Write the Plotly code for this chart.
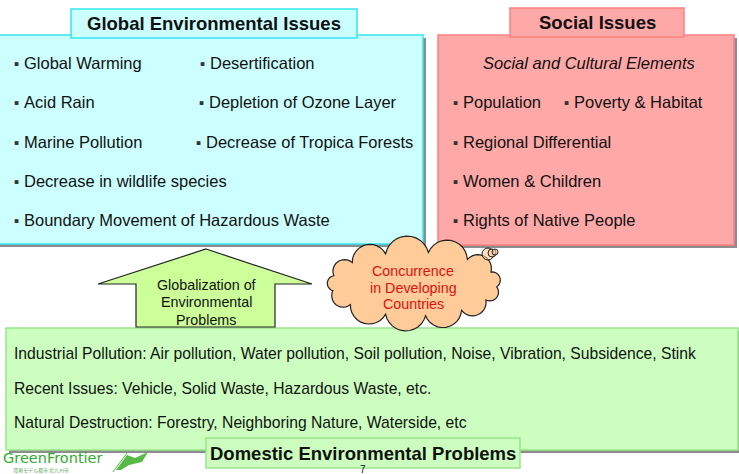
import math
import plotly.graph_objects as go

# ---- content ----
global_title = "Global Environmental Issues"
global_left = ["Global Warming", "Acid Rain", "Marine Pollution",
               "Decrease in wildlife species", "Boundary Movement of Hazardous Waste"]
global_right = ["Desertification", "Depletion of Ozone Layer", "Decrease of Tropica Forests"]
social_title = "Social Issues"
social_subtitle = "Social and Cultural Elements"
social_items = ["Population", "Regional Differential", "Women & Children", "Rights of Native People"]
social_extra = ["Poverty & Habitat"]
arrow_lines = ["Globalization of", "Environmental", "Problems"]
cloud_lines = ["Concurrence", "in Developing", "Countries"]
domestic_lines = [
    "Industrial Pollution: Air pollution, Water pollution, Soil pollution, Noise, Vibration, Subsidence, Stink",
    "Recent Issues: Vehicle, Solid Waste, Hazardous Waste, etc.",
    "Natural Destruction: Forestry, Neighboring Nature, Waterside, etc",
]
domestic_title = "Domestic Environmental Problems"
logo_text = "GreenFrontier"
logo_sub = "環境モデル都市 北九州市"
page_number = "7"

W, H = 739, 474
FONT = "Liberation Sans, Arial, sans-serif"
NARROW = "Liberation Sans Narrow, Arial Narrow, Liberation Sans, sans-serif"

shapes = []
ann = []


def rect(x0, y0, x1, y1, fill, line=None, lw=1, shadow=False):
    if shadow:
        shapes.append(dict(type="rect", x0=x0 + 3, y0=y0 + 3, x1=x1 + 3, y1=y1 + 3,
                           fillcolor="#8c8c8c", line=dict(width=0), layer="below"))
    shapes.append(dict(type="rect", x0=x0, y0=y0, x1=x1, y1=y1, fillcolor=fill,
                       line=dict(color=line or fill, width=lw if line else 0), layer="below"))


def text(x, y, s, size=15, color="#111111", anchor="left", family=FONT, bold=False, italic=False):
    if bold:
        s = "<b>" + s + "</b>"
    if italic:
        s = "<i>" + s + "</i>"
    ann.append(dict(x=x, y=y, text=s, showarrow=False, xanchor=anchor, yanchor="middle",
                    font=dict(size=size, color=color, family=family), borderpad=0))


def bullet(x, y, s, size=16.5, family=FONT):
    text(x - 10, y, "▪", size=7.5, family="DejaVu Sans", color="#333333")
    text(x, y, s, size=size, family=family)


# ---- global environmental issues (cyan) ----
rect(-5, 35, 423, 244, "#ccffff", "#33e6f0", 1.5, shadow=True)
rect(71, 9, 357, 38, "#ccffff", "#33e6f0", 1.5, shadow=False)
text(214, 23, global_title, size=18.5, bold=True, anchor="center")

rows_y = [63, 102, 142, 181, 220]
for s, y in zip(global_left, rows_y):
    bullet(23, y, s)
right_x = [209, 208, 205]
for s, y, x in zip(global_right, rows_y, right_x):
    bullet(x, y, s)

# ---- social issues (pink) ----
rect(438, 35, 734, 245, "#ffa8a8", "#ff8080", 1.5, shadow=True)
rect(510, 8, 684, 37, "#ffa8a8", "#ff8080", 1.5)
text(597, 22, social_title, size=18.5, bold=True, anchor="center")
text(589, 63, social_subtitle, size=16.5, italic=True, anchor="center")
for s, y in zip(social_items, rows_y[1:]):
    bullet(462, y, s)
for s in social_extra:
    bullet(573, rows_y[1], s)

# ---- domestic (green) ----
rect(6, 328, 738, 450, "#ccffbf", "#99e68c", 1.5, shadow=True)
dom_y = [353, 388, 422]
for s, y in zip(domestic_lines, dom_y):
    text(13, y, s, size=15.7, family=NARROW)
rect(206, 438, 520, 468, "#ccffbf", "#99e68c", 1.5)
text(363, 453, domestic_title, size=18.5, bold=True, anchor="center", family=NARROW)
text(363, 469, page_number, size=10, anchor="center")

# ---- arrow ----
arrow_pts = [(206, 249), (312, 284), (275, 284), (275, 327), (136, 327), (136, 284), (98, 284)]
path = "M" + " L".join(f"{x},{y}" for x, y in arrow_pts) + " Z"
shapes.append(dict(type="path", path=path,
                   fillcolor="#ccff99", line=dict(color="#222222", width=1.2), layer="above"))
for s, y in zip(arrow_lines, [285, 302, 320]):
    text(206, y, s, size=14.3, anchor="center")

# ---- cloud ----
cx, cy, rx, ry = 414, 284, 83, 32
angles = [195, 222, 250, 280, 310, 338, 5, 30, 55, 82, 110, 140, 168]
pts = []
for a in angles:
    t = math.radians(a)
    pts.append((cx + rx * math.cos(t), cy + ry * math.sin(t)))


def norm(a):
    while a < 0:
        a += 2 * math.pi
    while a >= 2 * math.pi:
        a -= 2 * math.pi
    return a


cloud = []
n = len(pts)
for i in range(n):
    A = pts[i]
    B = pts[(i + 1) % n]
    mx, my = (A[0] + B[0]) / 2, (A[1] + B[1]) / 2
    dx, dy = B[0] - A[0], B[1] - A[1]
    c = math.hypot(dx, dy)
    nx, ny = dy / c, -dx / c
    if (mx + nx - cx) ** 2 + (my + ny - cy) ** 2 < (mx - cx) ** 2 + (my - cy) ** 2:
        nx, ny = -nx, -ny
    h = 0.40 * c
    R = (c * c / 4 + h * h) / (2 * h)
    ccx, ccy = mx - nx * (R - h), my - ny * (R - h)
    a0 = math.atan2(A[1] - ccy, A[0] - ccx)
    a1 = math.atan2(B[1] - ccy, B[0] - ccx)
    am = math.atan2(my + ny * h - ccy, mx + nx * h - ccx)
    d1 = norm(a1 - a0)
    dm = norm(am - a0)
    if dm > d1:
        d1 = d1 - 2 * math.pi
    for k in range(13):
        ang = a0 + d1 * k / 12
        cloud.append((ccx + R * math.cos(ang), ccy + R * math.sin(ang)))
cpath = "M" + " L".join(f"{x:.1f},{y:.1f}" for x, y in cloud) + " Z"
shapes.append(dict(type="path", path=cpath, fillcolor="#ffcc99",
                   line=dict(color="#222222", width=1.2), layer="above"))
for (x, y, r) in [(488, 254, 6), (492, 253, 4), (495, 252, 3)]:
    shapes.append(dict(type="circle", x0=x - r, y0=y - r, x1=x + r, y1=y + r,
                       fillcolor="rgba(255,204,153,0.6)", line=dict(color="#222222", width=1), layer="above"))
for s, y in zip(cloud_lines, [271, 288, 304]):
    text(413, y, s, size=14.3, anchor="center", color="#dd1111")

# ---- logo ----
text(2, 458, logo_text, size=14.5, color="#33aa33", family="DejaVu Sans, Liberation Sans")
text(12, 470, logo_sub, size=5, color="#66aa66", family="Noto Sans CJK JP")
shapes.append(dict(type="path", path="M116,470 L127,455 L135,458 L148,452 L142,462 L129,465 L121,470 Z",
                   fillcolor="#55bb44", line=dict(width=0)))
shapes.append(dict(type="line", x0=113, y0=472, x1=127, y1=453, line=dict(color="#55bb44", width=1)))

fig = go.Figure()
fig.update_layout(
    width=W, height=H, margin=dict(l=0, r=0, t=0, b=0),
    paper_bgcolor="white", plot_bgcolor="white",
    xaxis=dict(range=[0, W], visible=False, fixedrange=True),
    yaxis=dict(range=[H, 0], visible=False, fixedrange=True),
    shapes=shapes, annotations=ann, showlegend=False,
)
fig.write_html("out.html", config={"displayModeBar": False},
               post_script="document.body.style.margin='0';document.body.style.overflow='hidden';")
